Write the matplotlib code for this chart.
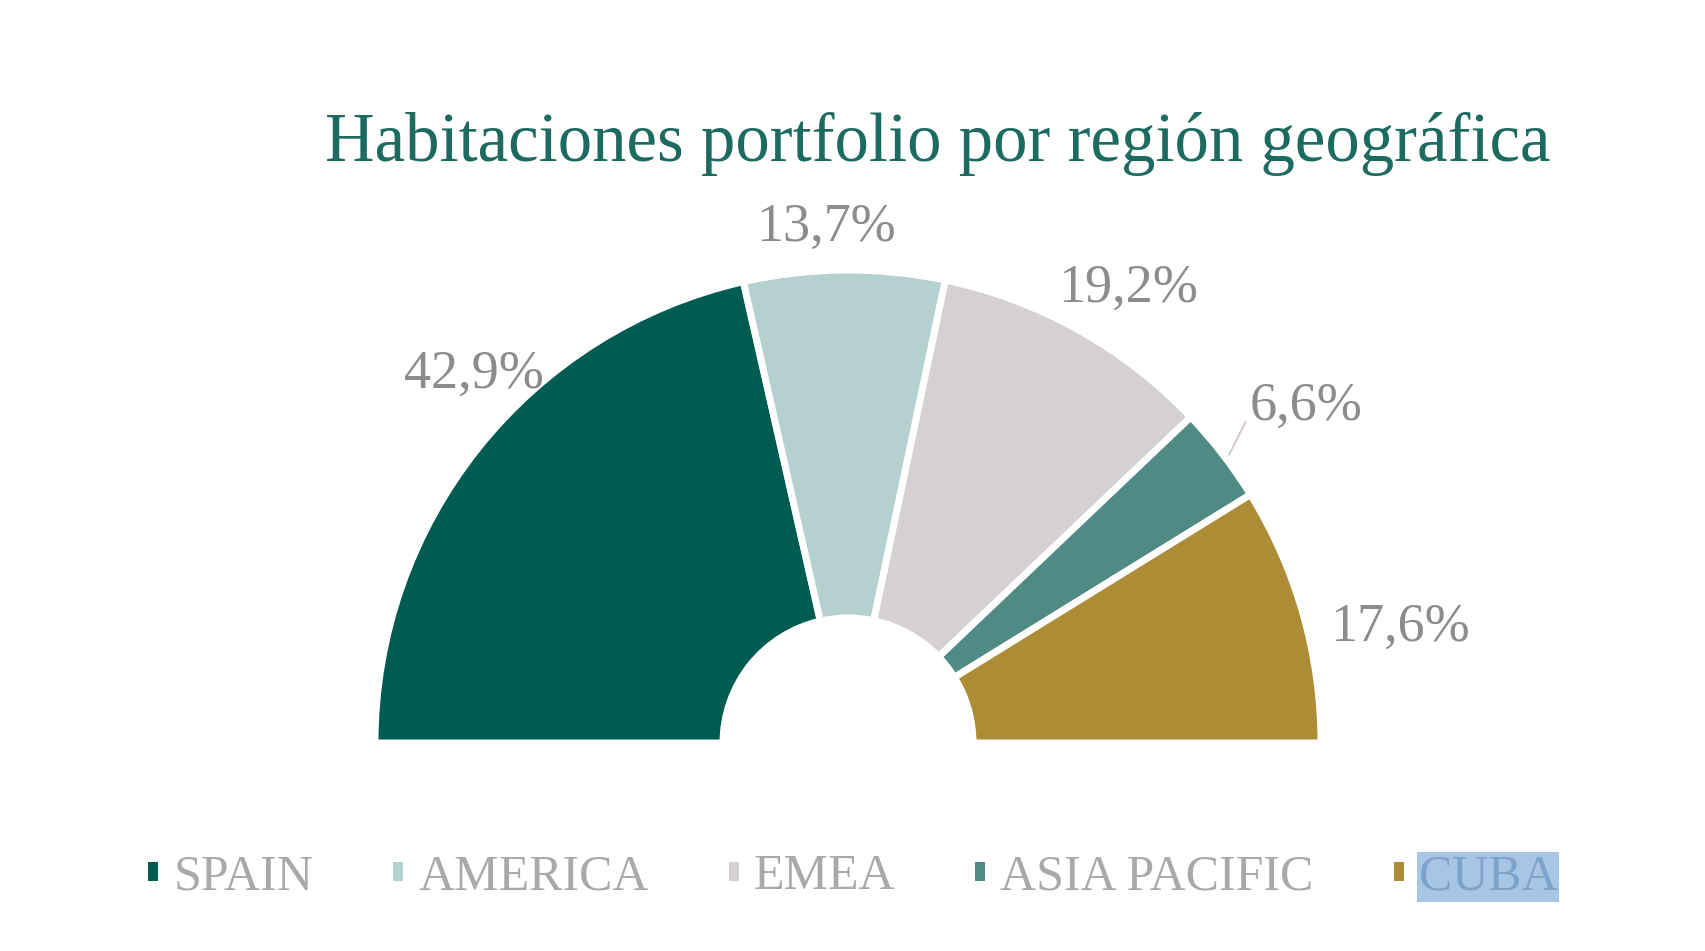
import numpy as np
import matplotlib
matplotlib.use("Agg")
import matplotlib.pyplot as plt

# datos del grafico
regiones = ["SPAIN", "AMERICA", "EMEA", "ASIA PACIFIC", "CUBA"]
valores = [42.9, 13.7, 19.2, 6.6, 17.6]
etiquetas = ["42,9%", "13,7%", "19,2%", "6,6%", "17,6%"]
colores = ["#005b50", "#b4d1cf", "#d5d1d0", "#4f8a85", "#ad8c36"]
titulo = "Habitaciones portfolio por región geográfica"

plt.rcParams['font.family'] = ['Liberation Serif', 'DejaVu Serif']

W, H = 1706, 951
fig = plt.figure(figsize=(W / 100, H / 100), dpi=100)
ax = fig.add_axes([0, 0, 1, 1])

cx, cy = 848, H - 743  # centro del semicirculo
R = 473
r_in = 125

# la mitad de abajo es un trozo invisible
vals = valores + [sum(valores)]
wedges, _ = ax.pie(vals, colors=colores + ["white"], startangle=180, counterclock=False,
                   center=(cx, cy), radius=R, frame=True,
                   wedgeprops=dict(width=R - r_in, edgecolor="white", linewidth=5))
wedges[-1].set_visible(False)
ax.set_xlim(0, W)
ax.set_ylim(0, H)
ax.set_aspect("equal")
ax.axis("off")

# posicion de las etiquetas (radio, ajuste de angulo)
ajustes = [(525, -6), (516, 2), (534, -2.5), (568, -1.3), (564, -4)]
for w, txt, (rl, da) in zip(wedges[:-1], etiquetas, ajustes):
    ang = np.deg2rad((w.theta1 + w.theta2) / 2 + da)
    x = cx + rl * np.cos(ang)
    y = cy + rl * np.sin(ang)
    ax.text(x, y, txt, ha="center", va="center", fontsize=39, color="#8c8c8c")

# linea guia para ASIA PACIFIC
wa = wedges[3]
a0 = np.deg2rad((wa.theta1 + wa.theta2) / 2 - 0.5)
a1 = a0 + np.deg2rad(1.8)
ax.plot([cx + (R + 5) * np.cos(a0), cx + (R + 38) * np.cos(a1)],
        [cy + (R + 5) * np.sin(a0), cy + (R + 38) * np.sin(a1)],
        color="#d6cccc", lw=1.5)

fig.text(938 / W, 1 - 144 / H, titulo, ha="center", va="center", fontsize=49.5, color="#1d6a61")

leg = ax.legend(wedges[:-1], regiones, loc="center", bbox_to_anchor=(853 / W, 1 - 877 / H),
                bbox_transform=fig.transFigure, ncol=5, frameon=False, fontsize=36,
                handlelength=0.2, handleheight=0.2, handletextpad=0.3, columnspacing=1.6)
for t in leg.get_texts():
    t.set_color("#a9a9a9")
for p in leg.get_patches():
    p.set_edgecolor("none")
cuba = leg.get_texts()[-1]
cuba.set_color("#7ea3c8")
cuba.set_bbox(dict(facecolor="#a7c6e6", edgecolor="none", pad=1))

fig.savefig("out.png", dpi=100, facecolor="white")
